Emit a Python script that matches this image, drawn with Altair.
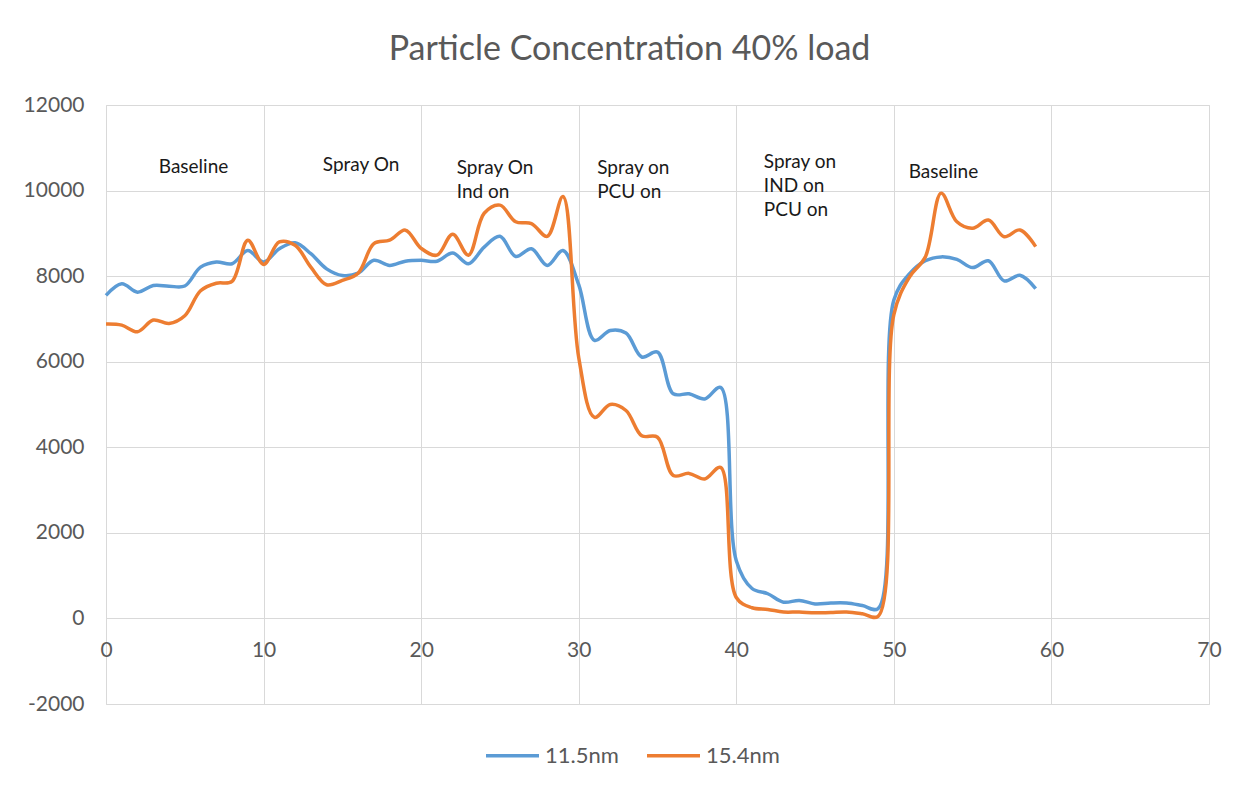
import altair as alt
import pandas as pd

x_vals = list(range(60))
s_115 = [7550, 7820, 7625, 7780, 7765, 7770, 8210, 8330, 8290, 8600,
         8330, 8640, 8780, 8525, 8170, 8015, 8070, 8370, 8250, 8350,
         8370, 8350, 8540, 8290, 8680, 8930, 8460, 8640, 8250, 8600,
         7800, 6500, 6730, 6670, 6110, 6225, 5250, 5250, 5130, 5400,
         1350, 700, 577, 380, 420, 340, 360, 360, 300, 230,
         7440, 8060, 8360, 8450, 8390, 8200, 8360, 7890, 8020, 7710]
s_154 = [6880, 6855, 6700, 6975, 6895, 7075, 7660, 7835, 7880, 8840,
         8275, 8800, 8720, 8210, 7800, 7900, 8070, 8760, 8840, 9075,
         8650, 8490, 8980, 8490, 9470, 9660, 9270, 9230, 8930, 9860,
         6100, 4700, 5000, 4860, 4270, 4235, 3340, 3390, 3260, 3530,
         490, 250, 210, 150, 150, 130, 140, 150, 110, 50,
         7100, 7985, 8450, 9940, 9270, 9120, 9310, 8920, 9080, 8690]
series_names = ["11.5nm", "15.4nm"]
series_colors = ["#5B9BD5", "#ED7D31"]

note_text = ["Baseline", "Spray On", "Spray On\nInd on", "Spray on\nPCU on",
             "Spray on\nIND on\nPCU on", "Baseline"]
note_x = [3.35, 13.76, 22.26, 31.17, 41.75, 50.94]
note_y = [10419, 10456, 10395, 10379, 10536, 10286]

x_ticks = [0, 10, 20, 30, 40, 50, 60, 70]
y_ticks = [-2000, 0, 2000, 4000, 6000, 8000, 10000, 12000]

df = pd.DataFrame({
    "x": x_vals * 2,
    "value": s_115 + s_154,
    "series": [series_names[0]] * 60 + [series_names[1]] * 60,
})
notes = pd.DataFrame({"x": note_x, "y": note_y, "text": note_text})

FONT = "Lato"
xscale = alt.Scale(domain=[0, 70], nice=False, zero=False)
yscale = alt.Scale(domain=[-2000, 12000], nice=False, zero=False)
xaxis = alt.Axis(values=x_ticks, grid=True, gridColor="#D9D9D9",
                 domain=False, ticks=False, tickSize=0, labelFlush=False,
                 labelPadding=-48, labelBaseline="alphabetic",
                 labelFont=FONT, labelFontSize=21, labelColor="#595959")
yaxis = alt.Axis(values=y_ticks, grid=True, gridColor="#D9D9D9",
                 domain=False, ticks=False, tickSize=0,
                 labelExpr="'' + datum.value",
                 labelPadding=22, labelFont=FONT, labelFontSize=21,
                 labelColor="#595959")

lines = alt.Chart(df).mark_line(
    interpolate="catmull-rom", strokeWidth=3.5
).encode(
    x=alt.X("x:Q", scale=xscale, title=None, axis=xaxis),
    y=alt.Y("value:Q", scale=yscale, title=None, axis=yaxis),
    color=alt.Color("series:N",
                    scale=alt.Scale(domain=series_names, range=series_colors),
                    legend=alt.Legend(title=None, orient="none", direction="horizontal",
                                      legendX=378, legendY=622,
                                      symbolType="stroke", symbolSize=2809,
                                      symbolStrokeWidth=3.5, labelOffset=4,
                                      columnPadding=21, padding=0,
                                      labelFont=FONT, labelFontSize=22,
                                      labelColor="#595959")),
)

texts = alt.Chart(notes).mark_text(
    align="left", baseline="alphabetic", lineBreak="\n", lineHeight=24,
    font=FONT, fontSize=19, color="#1a1a1a"
).encode(
    x=alt.X("x:Q", scale=xscale, title=None, axis=xaxis),
    y=alt.Y("y:Q", scale=yscale, title=None, axis=yaxis),
    text="text:N",
)

chart = alt.layer(lines, texts).properties(
    width=1103, height=599,
    title=alt.TitleParams("Particle Concentration  40% load", font=FONT, fontSize=34,
                          fontWeight="normal", color="#595959", anchor="middle",
                          frame="group", dx=-28, offset=0, baseline="alphabetic"),
    autosize=alt.AutoSizeParams(type="none"),
    padding={"left": 98, "top": 97, "right": 30, "bottom": 70},
).configure_view(stroke="#D9D9D9").configure(background="white")

chart.save("out.html", embed_options={"renderer": "svg", "actions": False})
